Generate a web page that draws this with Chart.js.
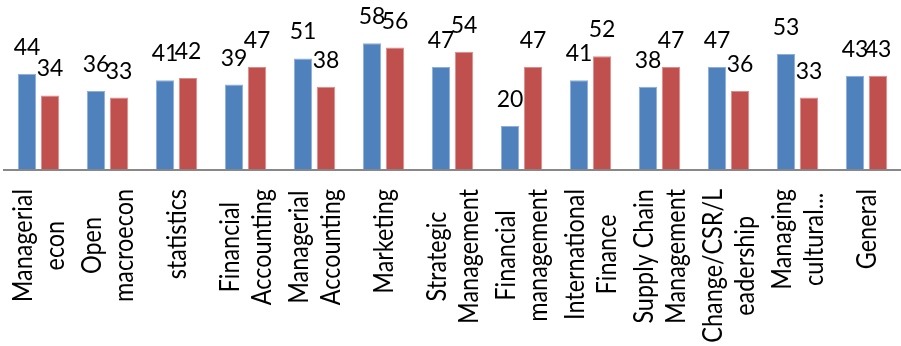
<!DOCTYPE html>
<html>
<head>
<meta charset="utf-8">
<script src="https://cdn.jsdelivr.net/npm/chart.js@4/dist/chart.umd.min.js"></script>
<style>
  html, body { margin: 0; padding: 0; background: #fff; }
  #wrap { width: 901px; height: 346px; position: relative; }
</style>
</head>
<body>
<div id="wrap"><canvas id="myChart"></canvas></div>
<script>
// categories (line breaks as in the original axis)
var categories = [
  ['Managerial', 'econ'],
  ['Open', 'macroecon'],
  ['statistics'],
  ['Financial', 'Accounting'],
  ['Managerial', 'Accounting'],
  ['Marketing'],
  ['Strategic', 'Management'],
  ['Financial', 'management'],
  ['International', 'Finance'],
  ['Supply Chain', 'Management'],
  ['Change/CSR/L', 'eadership'],
  ['Managing', 'cultural...'],
  ['General']
];
var series1 = [44, 36, 41, 39, 51, 58, 47, 20, 41, 38, 47, 53, 43];
var series2 = [34, 33, 42, 47, 38, 56, 54, 47, 52, 47, 36, 33, 43];

var colorHex = ['#4F81BD', '#C0504D'];
var edgeHex = ['#8DAEDB', '#DB8C8A'];

// value labels over the bars
var valueLabels = {
  id: 'valueLabels',
  afterDatasetsDraw: function(chart) {
    var ctx = chart.ctx;
    ctx.save();
    ctx.font = '23px Lato';
    ctx.fillStyle = '#000';
    ctx.textAlign = 'center';
    ctx.textBaseline = 'alphabetic';
    chart.data.datasets.forEach(function(ds, d) {
      var meta = chart.getDatasetMeta(d);
      meta.data.forEach(function(bar, i) {
        ctx.fillText(String(ds.data[i]), bar.x, bar.y - 19);
      });
    });
    ctx.restore();
  }
};

// rotated category labels, lines centred on each other
var catLabels = {
  id: 'catLabels',
  afterDraw: function(chart) {
    var ctx = chart.ctx;
    var xs = chart.scales.x;
    var top = chart.chartArea.bottom + 19.5;
    var lh = 32;
    var squeeze = 0.9;
    ctx.save();
    ctx.font = '26px Lato';
    ctx.fillStyle = '#000';
    ctx.textAlign = 'center';
    ctx.textBaseline = 'alphabetic';
    categories.forEach(function(lines, i) {
      var maxW = 0;
      lines.forEach(function(l) { maxW = Math.max(maxW, ctx.measureText(l).width); });
      var px = xs.getPixelForValue(i) + 9.5;
      ctx.save();
      ctx.translate(px, top + maxW * squeeze / 2);
      ctx.rotate(-Math.PI / 2);
      ctx.scale(squeeze, 1);
      lines.forEach(function(l, k) {
        ctx.fillText(l, 0, (k - (lines.length - 1) / 2) * lh);
      });
      ctx.restore();
    });
    ctx.restore();
  }
};

var ctx = document.getElementById('myChart').getContext('2d');
var myChart = new Chart(ctx, {
  type: 'bar',
  data: {
    labels: categories,
    datasets: [{
      label: 'Series 1',
      data: series1,
      backgroundColor: colorHex[0],
      borderColor: edgeHex[0],
      borderWidth: 1
    }, {
      label: 'Series 2',
      data: series2,
      backgroundColor: colorHex[1],
      borderColor: edgeHex[1],
      borderWidth: 1
    }]
  },
  options: {
    responsive: true,
    maintainAspectRatio: false,
    animation: false,
    layout: { padding: { left: 4, right: 0, top: 17, bottom: 168.5 } },
    datasets: { bar: { categoryPercentage: 0.667, barPercentage: 0.8 } },
    plugins: {
      legend: { display: false },
      tooltip: { enabled: false }
    },
    scales: {
      x: {
        grid: { display: false },
        ticks: { display: false },
        border: { display: true, color: '#888888', width: 2 }
      },
      y: {
        display: false,
        min: 0,
        max: 70
      }
    }
  },
  plugins: [valueLabels, catLabels]
});
</script>
</body>
</html>
